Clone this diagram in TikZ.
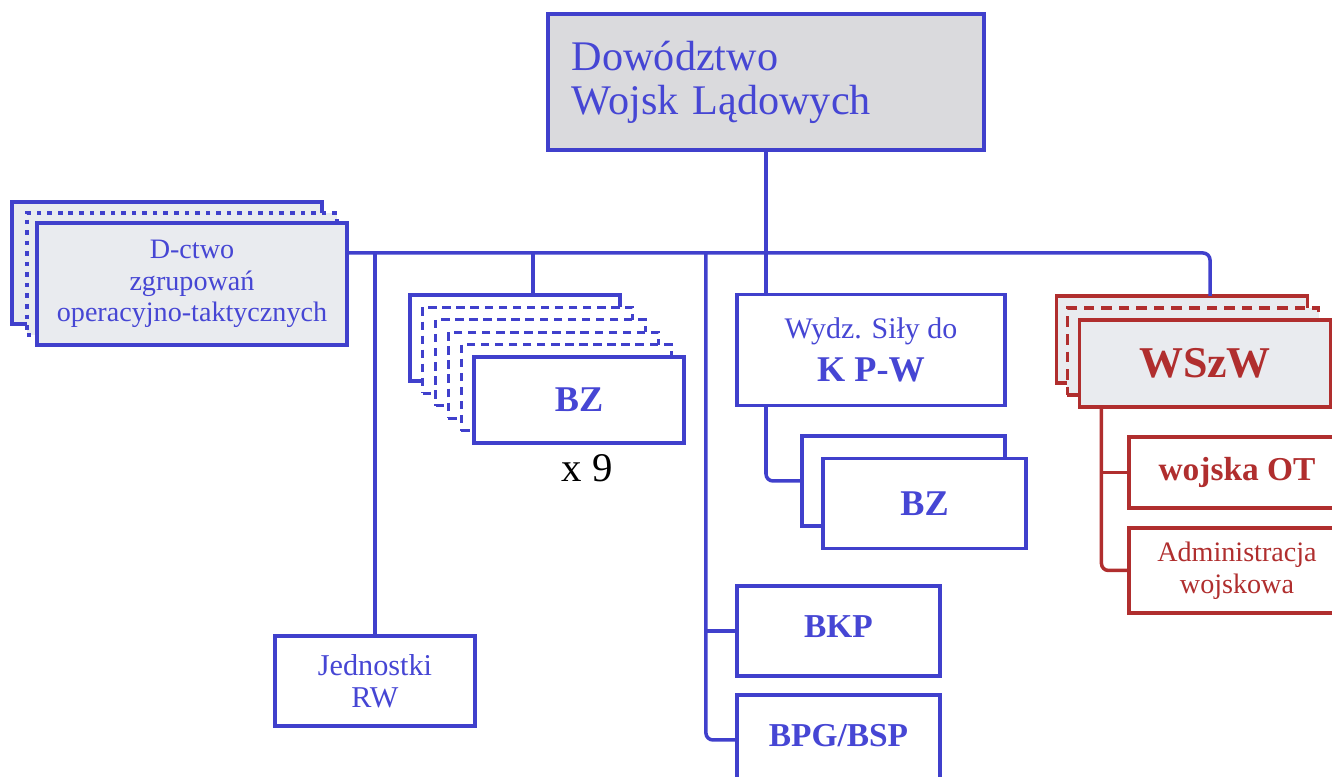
\documentclass[tikz,border=0pt]{standalone}
\usepackage{fontspec}
\setmainfont{Liberation Serif}
\usepackage{tikz}
\usetikzlibrary{positioning}

\definecolor{blueline}{RGB}{64,64,204}
\definecolor{bluetext}{RGB}{70,70,212}
\definecolor{redline}{RGB}{176,46,46}
\definecolor{grayfill}{RGB}{218,218,221}
\definecolor{lightfill}{RGB}{233,235,239}

\begin{document}
\begin{tikzpicture}[
                x=0.01cm, y=-0.01cm,
                % Define styles for nodes
                unit/.style={rectangle, draw=blueline, line width=1pt, fill=white, text=bluetext, inner sep=0pt, outer sep=0pt, align=center},
                redunit/.style={unit, draw=redline, text=redline},
                boxsize/.style 2 args={minimum width=#1, minimum height=#2},
                dotline/.style={line width=1.1pt, dash pattern=on 1.3pt off 1.7pt},
                dashline/.style={line width=0.8pt, dash pattern=on 2.4pt off 1.6pt},
                reddash/.style={line width=1pt, dash pattern=on 3pt off 2pt},
                fbold/.style={font=\fontsize{10.3}{12}\selectfont\bfseries},
                fmid/.style={font=\fontsize{9.5}{12}\selectfont\bfseries},
                fsmall/.style={font=\fontsize{8}{9}\selectfont},
                % Define styles for connectors
                bline/.style={draw=blueline, line width=1pt, rounded corners=2pt},
                rline/.style={bline, draw=redline}
            ]
                \useasboundingbox (0,0) rectangle (1332,777);
                \clip (0,0) rectangle (1332,777);

                % Define nodes
                \node[unit, fill=grayfill, boxsize={4.36cm}{1.36cm}, text width=3.88cm, align=left, font=\fontsize{12}{12.5}\selectfont] (dwl) at (766,82) {Dowództwo\\Wojsk Lądowych};

                \node[unit, fill=lightfill, boxsize={3.1cm}{1.22cm}] (dzgB) at (167,263) {};
                \node[unit, fill=lightfill, boxsize={3.1cm}{1.22cm}, dotline] (dzgD) at (182,274) {};
                \node[unit, fill=lightfill, boxsize={3.1cm}{1.22cm}, fsmall] (dzg) at (192,284) {D-ctwo\\zgrupowań\\operacyjno-taktycznych};

                \node[unit, boxsize={2cm}{0.9cm}, font=\fontsize{8.6}{9.1}\selectfont] (jrw) at (375,681) {Jednostki\\RW};

                \node[unit, boxsize={2.1cm}{0.86cm}] (bzB) at (515,338) {};
                \foreach \i in {1,...,4}
                    \node[unit, boxsize={2.1cm}{0.86cm}, dashline] (bzL\i) at (515+12.8*\i, 338+12.4*\i) {};
                \node[unit, boxsize={2.1cm}{0.86cm}, fbold] (bz) at (579,400) {BZ};
                \node[font=\fontsize{11.6}{12}\selectfont] (bzcount) at (587,468) {x 9};

                \node[unit, boxsize={2.68cm}{1.11cm}, font=\fontsize{8.5}{12.2}\selectfont] (wsk) at (871,350) {Wydz. Siły do\\{\fontsize{10.3}{12.2}\selectfont\bfseries K P-W}};
                \node[unit, boxsize={2.03cm}{0.9cm}] (bzkB) at (903.5,481) {};
                \node[unit, boxsize={2.03cm}{0.9cm}, fbold] (bzk) at (924.5,503.5) {BZ};

                \node[unit, boxsize={2.03cm}{0.9cm}, fmid] (bkp) at (838.5,631) {\raisebox{0.08cm}{BKP}};
                \node[unit, boxsize={2.03cm}{0.9cm}, fmid] (bpg) at (838.5,740) {\raisebox{0.09cm}{BPG/BSP}};

                \node[redunit, fill=lightfill, boxsize={2.51cm}{0.87cm}] (wszB) at (1182,339.5) {};
                \node[redunit, fill=lightfill, boxsize={2.51cm}{0.87cm}, reddash] (wszD) at (1193,351.5) {};
                \node[redunit, fill=lightfill, boxsize={2.51cm}{0.87cm}, font=\fontsize{12.5}{14}\selectfont\bfseries] (wsz) at (1205,363.5) {WSzW};

                \node[redunit, boxsize={2.16cm}{0.71cm}, fmid] (wot) at (1237,472.5) {wojska OT};
                \node[redunit, boxsize={2.16cm}{0.85cm}, fsmall] (adm) at (1237,570.5) {Administracja\\wojskowa};

                % Helper points for the connectors
                \coordinate (busL) at ([yshift=0.31cm]dzg.east);
                \coordinate (bzTop) at ([xshift=0.18cm]bzB.north);
                \coordinate (wszTop) at ([xshift=0.28cm]wszB.north);
                \coordinate (trunk) at ([xshift=-0.31cm]bkp.west);
                \coordinate (wszFoot) at ([xshift=0.22cm]wsz.south west);

                % Draw connections
                \draw[bline] (busL) -| (wszTop);
                \draw[bline] (dwl.south) -- (dwl.south |- wsk.north);
                \draw[bline] (jrw.north |- busL) -- (jrw.north);
                \draw[bline] (bzTop |- busL) -- (bzTop);
                \draw[bline] (trunk |- busL) |- (bpg.west);
                \draw[bline] (trunk) -- (bkp.west);
                \draw[bline] (dwl.south |- wsk.south) |- (bzkB.west);

                \draw[rline] (wszFoot) |- (adm.west);
                \draw[rline] (wszFoot |- wot.west) -- (wot.west);
            \end{tikzpicture}
\end{document}
